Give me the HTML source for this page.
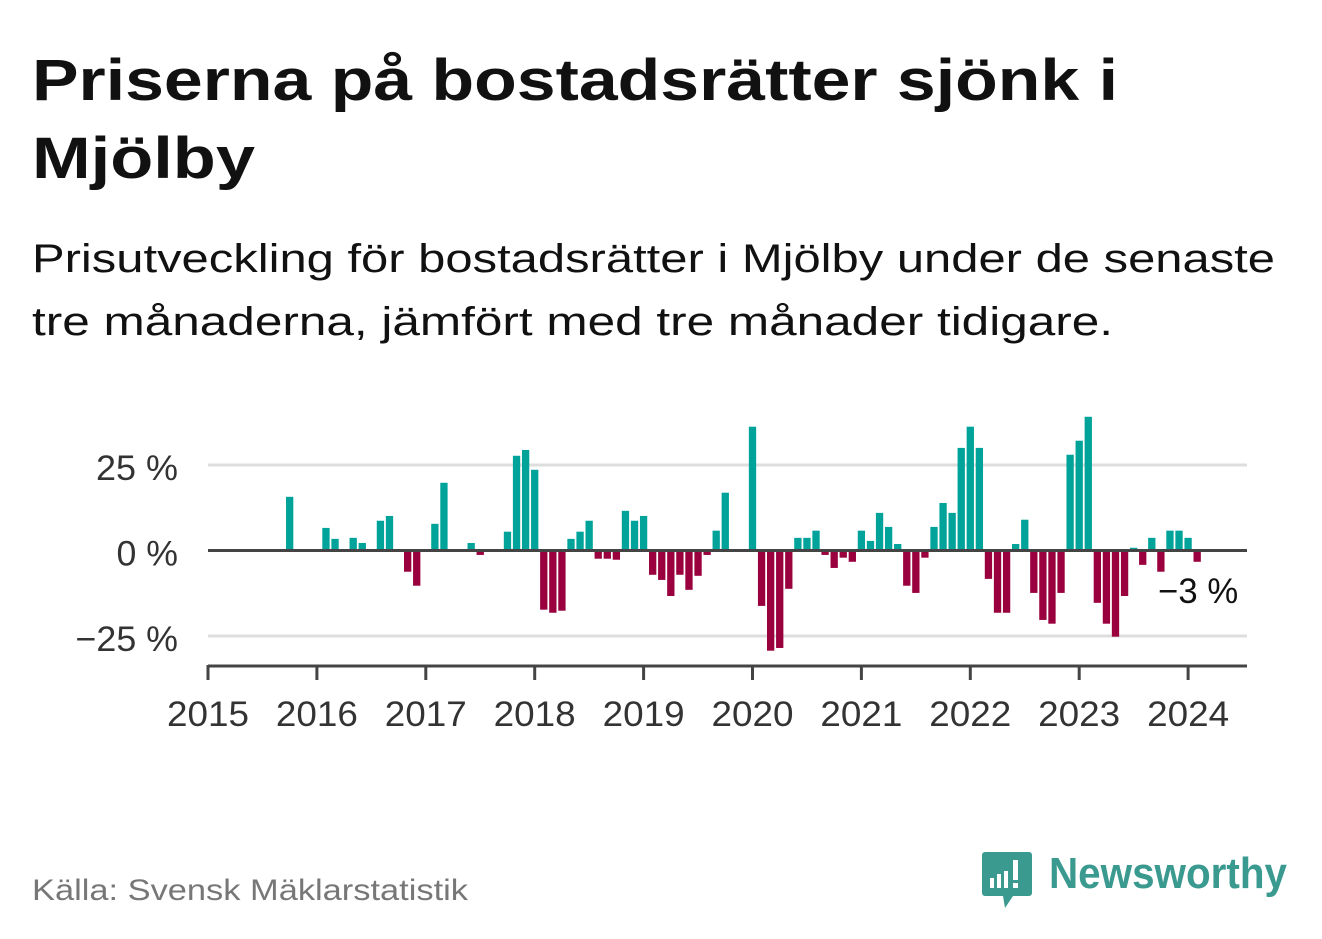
<!DOCTYPE html>
<html><head><meta charset="utf-8"><style>
html,body{margin:0;padding:0;background:#fff;}
svg{display:block;font-family:"Liberation Sans","DejaVu Sans",sans-serif;}
</style></head><body>
<svg id="chart" width="1322" height="939" viewBox="0 0 1322 939" xmlns="http://www.w3.org/2000/svg">
<rect width="1322" height="939" fill="#fff"/>
<text x="32" y="100" font-size="58" font-weight="bold" fill="#111" textLength="1086" lengthAdjust="spacingAndGlyphs">Priserna på bostadsrätter sjönk i</text>
<text x="32" y="178" font-size="58" font-weight="bold" fill="#111" textLength="223" lengthAdjust="spacingAndGlyphs">Mjölby</text>
<text x="32" y="272" font-size="40" fill="#111" textLength="1243" lengthAdjust="spacingAndGlyphs">Prisutveckling för bostadsrätter i Mjölby under de senaste</text>
<text x="32" y="335" font-size="40" fill="#111" textLength="1081" lengthAdjust="spacingAndGlyphs">tre månaderna, jämfört med tre månader tidigare.</text>
<g id="grid"></g>
<g id="bars"></g>
<g id="axes"></g>
<text x="32" y="900" font-size="30" fill="#777" textLength="436" lengthAdjust="spacingAndGlyphs">Källa: Svensk Mäklarstatistik</text>
<g>
<path d="M985 852 h44 a3 3 0 0 1 3 3 v38 a3 3 0 0 1 -3 3 h-16 l-8 12 l-2 -12 h-18 a3 3 0 0 1 -3 -3 v-38 a3 3 0 0 1 3 -3z" fill="#3a9a8f"/>
<rect x="990" y="878" width="4" height="10" fill="#fff"/>
<rect x="997" y="874" width="4" height="14" fill="#fff"/>
<rect x="1004" y="871" width="4" height="17" fill="#fff"/>
<rect x="1013" y="860" width="5" height="20" fill="#fff"/>
<rect x="1013" y="883" width="5" height="5" fill="#fff"/>
<text x="1049" y="888" font-size="44" font-weight="bold" fill="#3a9a8f" textLength="238" lengthAdjust="spacingAndGlyphs">Newsworthy</text>
</g>
</svg>
<script>
const startYear = 2015;
const yearTicks = [2015,2016,2017,2018,2019,2020,2021,2022,2023,2024];
const yTicks = [25, 0, -25];
const yTickLabels = ["25 %", "0 %", "\u221225 %"];
const values = [
0,0,0,0,0,0,0,0,0,15.7,0,0,
0,6.6,3.4,0,3.7,2.2,0,8.7,10.1,0,-6.2,-10.3,
0,7.8,19.8,0,0,2.2,-1.3,0,0,5.5,27.7,29.4,
23.6,-17.3,-18.2,-17.6,3.4,5.5,8.7,-2.4,-2.4,-2.7,11.6,8.7,
10.1,-7.1,-8.6,-13.3,-7.1,-11.5,-7.4,-1.3,5.8,16.9,0,0,
36.2,-16.2,-29.3,-28.5,-11.2,3.7,3.7,5.8,-1.3,-5.1,-2.1,-3.3,
5.8,2.8,11.0,6.9,1.9,-10.3,-12.4,-2.1,6.9,13.9,11.0,30.0,
36.2,30.0,-8.3,-18.2,-18.2,1.9,9.0,-12.4,-20.3,-21.4,-12.4,28.0,
32.1,39.1,-15.3,-21.4,-25.2,-13.3,0.8,-4.2,3.7,-6.2,5.8,5.8,
3.7,-3.3
];
const lastLabel = "\u22123 %";

const NS = "http://www.w3.org/2000/svg";
const x0 = 208, monthW = 108.9/12, plotRight = 1247;
const xScale = m => x0 + m * monthW;
const y0 = 550.5, pxPer = 3.42;
const yScale = v => y0 - v * pxPer;
function mk(tag, attrs, parent){ const e=document.createElementNS(NS,tag); for(const k in attrs) e.setAttribute(k,attrs[k]); parent.appendChild(e); return e; }
const grid = document.getElementById('grid'), bars = document.getElementById('bars'), axes = document.getElementById('axes');

yTicks.forEach((t,i)=>{
  const y = yScale(t);
  if (t !== 0) {
    const l = mk('line',{x1:x0,x2:plotRight,y1:y,y2:y,stroke:'#dedede','stroke-width':3},grid);
    
    
  }
  const lbl = yTickLabels[i];
  const tl = lbl.length * 20.5;
  const tx = mk('text',{x:178 - tl,y:y+15,'font-size':35,fill:'#333',textLength:tl,lengthAdjust:'spacingAndGlyphs'},axes);
  tx.textContent = lbl;
  
  
});

values.forEach((v,i)=>{
  if (v === 0) return;
  const cx = xScale(i), w = 7.3;
  const yt = v > 0 ? yScale(v) : y0, h = Math.abs(v) * pxPer;
  const r = mk('rect',{x:cx - w/2, y:yt, width:w, height:h, fill: v > 0 ? '#00a39a' : '#99003d'},bars);
  
  
});

const zl = mk('line',{x1:x0,x2:plotRight,y1:y0,y2:y0,stroke:'#444','stroke-width':3},axes);


const xa = mk('line',{x1:x0,x2:plotRight,y1:666,y2:666,stroke:'#444','stroke-width':3},axes);


yearTicks.forEach(yr=>{
  const x = xScale((yr - startYear) * 12);
  const tk = mk('line',{x1:x,x2:x,y1:665,y2:680,stroke:'#444','stroke-width':3},axes);
  
  
  const t = mk('text',{x:x-41,y:726,'font-size':35,fill:'#333',textLength:82,lengthAdjust:'spacingAndGlyphs'},axes);
  t.textContent = yr;
  
  
});
const li = values.length - 1;
const lab = mk('text',{x:xScale(li) - 39, y:yScale(values[li]) + 41,'font-size':35,fill:'#111',textLength:80,lengthAdjust:'spacingAndGlyphs'},axes);
lab.textContent = lastLabel;


</script>
</body></html>
